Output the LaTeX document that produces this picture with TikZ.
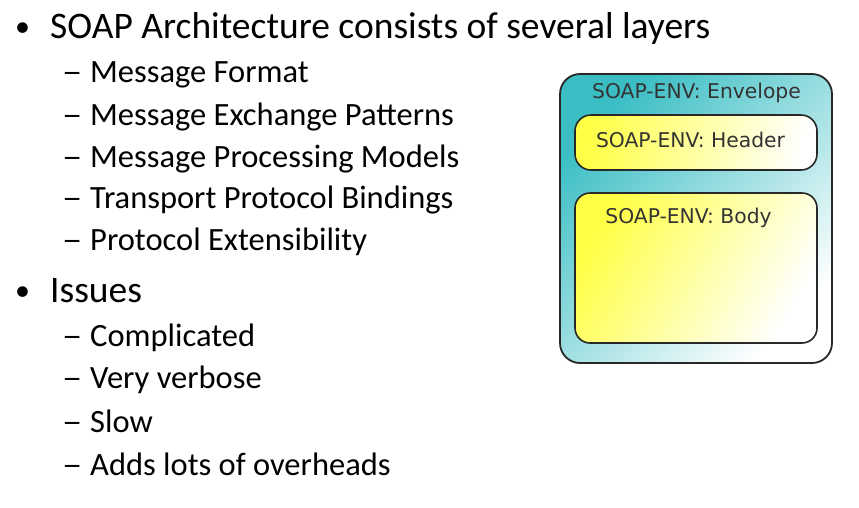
\documentclass[tikz,border=0pt]{standalone}
\usepackage{graphicx}
\usepackage{fontspec}
\setmainfont{Carlito}
\newfontfamily\boxfont{DejaVu Sans}
\definecolor{envteal}{RGB}{58,190,196}
\definecolor{partyellow}{RGB}{255,255,70}
\definecolor{edgegray}{RGB}{40,40,40}
\newcommand{\subdash}{\scalebox{1.25}[1]{–}}
\begin{document}
\begin{tikzpicture}[x=1pt,y=-1pt,
  bulletmark/.style={anchor=base west,inner sep=0pt,font=\fontsize{30}{30}\selectfont},
  lvlone/.style={anchor=base west,inner sep=0pt,font=\fontsize{37.5}{37.5}\selectfont},
  lvltwo/.style={anchor=base west,inner sep=0pt,font=\fontsize{32.5}{32.5}\selectfont},
  boxtext/.style={inner sep=0pt,font=\boxfont\fontsize{20.3}{20.3}\selectfont,text=black!80},
  envbox/.style={draw=edgegray,line width=1.8pt,rounded corners=20pt,top color=envteal,bottom color=white,shading angle=45},
  partbox/.style={draw=edgegray,line width=1.6pt,rounded corners=16pt,top color=partyellow,bottom color=white,shading angle=60}]
\useasboundingbox (0,0) rectangle (859,507);
% left text
\node[bulletmark] (b1) at (15,36) {•};
\node[lvlone] (t1) at (50,38) {SOAP Architecture consists of several layers};
\foreach \y/\txt [count=\i] in {82/Message Format,125/Message Exchange Patterns,167/Message Processing Models,208/Transport Protocol Bindings,250/Protocol Extensibility}{
  \node[lvltwo] (da\i) at (62,\y) {\subdash};
  \node[lvltwo] (sa\i) at (90,\y) {\txt};
}
\node[bulletmark] (b2) at (15,300) {•};
\node[lvlone] (t2) at (50,302) {Issues};
\foreach \y/\txt [count=\i] in {346/Complicated,388/Very verbose,432/Slow,475/Adds lots of overheads}{
  \node[lvltwo] (db\i) at (62,\y) {\subdash};
  \node[lvltwo] (sb\i) at (90,\y) {\txt};
}
% SOAP envelope diagram
\path[envbox] (560,74) rectangle (832,363);
\path[partbox,shading angle=80] (575,115) rectangle (817,170);
\path[partbox,rounded corners=15pt] (575,193) rectangle (817,343);
\node[boxtext] (env) at (696.5,93) {SOAP-ENV: Envelope};
\node[boxtext] (hdr) at (690.5,140) {SOAP-ENV: Header};
\node[boxtext] (bdy) at (688.5,218) {SOAP-ENV: Body};
\end{tikzpicture}
\end{document}
